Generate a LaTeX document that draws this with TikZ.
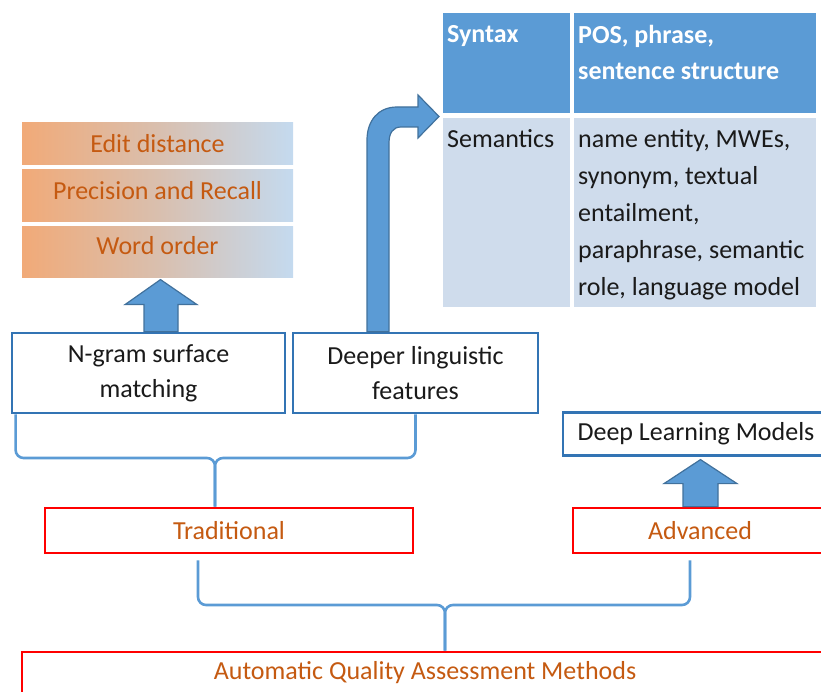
\documentclass[tikz,border=0pt]{standalone}
\usepackage{fontspec}
\setmainfont{Carlito}
\usetikzlibrary{calc}
\definecolor{gOr}{HTML}{F1AA78}
\definecolor{gBl}{HTML}{C4DAEF}
\definecolor{gMid}{HTML}{D9BFAE}
\definecolor{oText}{HTML}{C55A11}
\definecolor{bEdge}{HTML}{3374B4}
\definecolor{aFill}{HTML}{5B9BD5}
\definecolor{aEdge}{HTML}{41719C}
\definecolor{brC}{HTML}{5B9BD5}
\definecolor{hCell}{HTML}{5B9BD5}
\definecolor{lCell}{HTML}{CFDCEC}
\definecolor{txt}{HTML}{1A1A1A}
\begin{document}
\begin{tikzpicture}[x=1pt,y=-1pt,
  gradbox/.style={minimum width=271pt, left color=gOr, right color=gBl, middle color=gMid, text=oText,
    font=\fontsize{26}{30}\selectfont, inner sep=0pt},
  bluebox/.style={draw=bEdge, line width=2.8pt, fill=white, text=txt, align=center,
    font=\fontsize{26}{35}\selectfont, inner sep=0pt},
  redbox/.style={draw=red, line width=2.8pt, fill=white, text=oText,
    font=\fontsize{26}{30}\selectfont, inner sep=0pt},
  blockarrow/.style={fill=aFill, draw=aEdge, line width=1.2pt, line join=miter},
  brace/.style={draw=brC, line width=2.6pt, rounded corners=8pt},
  hcellbg/.style={fill=hCell, inner sep=0pt, anchor=north west},
  lcellbg/.style={fill=lCell, inner sep=0pt, anchor=north west},
  htext/.style={text=white, font=\fontsize{26}{36}\bfseries\selectfont, align=left, inner sep=0pt, anchor=north west},
  ltext/.style={text=txt, font=\fontsize{26}{37}\selectfont, align=left, inner sep=0pt, anchor=north west}
]
\useasboundingbox (0,0) rectangle (821,692);
\clip (0,0) rectangle (821,692);

% gradient boxes
\node[gradbox, minimum height=42pt] (ed) at (157.5,144) {\raisebox{1pt}{Edit distance}};
\node[gradbox, minimum height=52pt] (pr) at (157.5,196) {\raisebox{11pt}{Precision and Recall}};
\node[gradbox, minimum height=51pt] (wo) at (157.5,252.5) {\raisebox{15pt}{Word order}};

% table
\node[hcellbg, minimum width=127pt, minimum height=100pt] (c11) at (443,13) {};
\node[hcellbg, minimum width=242pt, minimum height=100pt] (c12) at (574,13) {};
\node[lcellbg, minimum width=127pt, minimum height=189pt] (c21) at (443,118) {};
\node[lcellbg, minimum width=242pt, minimum height=189pt] (c22) at (574,118) {};
\node[htext] (t11) at (447,25.5) {Syntax};
\node[htext] (t12) at (578,25.5) {POS, phrase,\\sentence structure};
\node[ltext] (t21) at (447,129.5) {Semantics};
\node[ltext] (t22) at (578,129.5) {name entity, MWEs,\\synonym, textual\\entailment,\\paraphrase, semantic\\role, language model};

% boxes
\node[bluebox, minimum width=273pt, minimum height=80pt] (ng) at (148.5,373) {N-gram surface\\matching};
\node[bluebox, minimum width=245pt, minimum height=80pt] (dp) at (415.5,373) {Deeper linguistic\\features};
\node[bluebox, minimum width=266pt, minimum height=43pt] (dl) at (696,434) {Deep Learning Models};
\node[redbox, minimum width=368pt, minimum height=45pt] (tr) at (229,530.5) {Traditional};
\node[redbox, minimum width=254pt, minimum height=45pt] (ad) at (700,530.5) {Advanced};
\node[redbox, minimum width=806pt, minimum height=42pt] (aq) at (425,673) {\raisebox{3pt}{Automatic Quality Assessment Methods}};

% block arrows
\draw[blockarrow] ([xshift=-4.5pt]ng.north) -- ++(0,-27) -- ++(-19,0) -- ++(35.5,-25) -- ++(36.5,25) -- ++(-19,0) -- ++(0,27) -- cycle;
\draw[blockarrow] ([xshift=-17pt]ad.north) -- ++(0,-23) -- ++(-19,0) -- ++(36.5,-24) -- ++(36.5,24) -- ++(-19,0) -- ++(0,23) -- cycle;
\draw[blockarrow] (367,331.7) -- (367,140) .. controls (367,121) and (378,107) .. (397,107)
  -- (418,107) -- (418,95) -- (439,116.5) -- (418,138) -- (418,127) -- (401,127)
  .. controls (393,127) and (389,133) .. (389,143) -- (389,331.7) -- cycle;

% braces
\coordinate (bj1) at (215,458);
\draw[brace] ([xshift=5pt]ng.south west) |- (bj1) -- (bj1 |- tr.north);
\draw[brace] (dp.south) |- (bj1) -- (bj1 |- tr.north);
\coordinate (bj2) at (445,605);
\draw[brace] ([xshift=-31pt,yshift=-6pt]tr.south) |- (bj2) -- (bj2 |- aq.north);
\draw[brace] ([xshift=-10pt,yshift=-6pt]ad.south) |- (bj2) -- (bj2 |- aq.north);
\end{tikzpicture}
\end{document}
